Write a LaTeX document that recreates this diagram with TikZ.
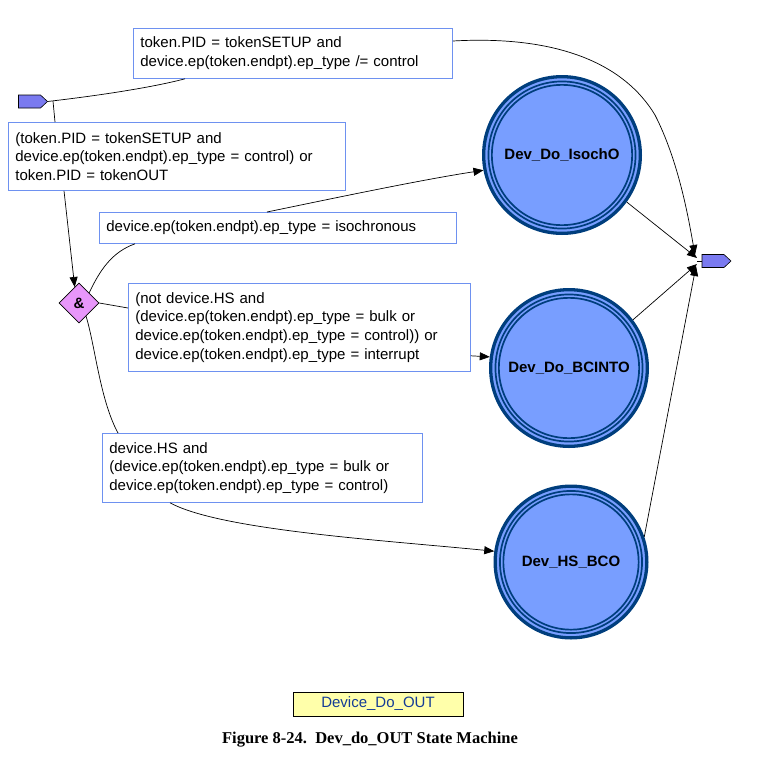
\documentclass[tikz,border=0pt]{standalone}
\usepackage{fontspec}
\setmainfont{Liberation Sans}
\newfontfamily\capfont{Liberation Serif}
\usetikzlibrary{shapes.geometric,arrows.meta,calc}
\definecolor{stblue}{RGB}{120,158,255}
\definecolor{stnavy}{RGB}{0,62,125}
\definecolor{boxblue}{RGB}{110,145,240}
\definecolor{pentfill}{RGB}{122,122,240}
\definecolor{diafill}{RGB}{232,150,250}
\definecolor{legfill}{RGB}{255,255,170}
\definecolor{legtext}{RGB}{20,60,150}
\begin{document}
\begin{tikzpicture}[x=1pt,y=-1pt,
  condbox/.style={draw=boxblue, line width=0.8pt, fill=white, rectangle, anchor=north west,
    align=left, inner xsep=7pt, inner ysep=0pt, font=\fontsize{15}{18.7}\selectfont},
  state/.style={circle, draw=stnavy, line width=3.3pt, fill=stblue,
    minimum size={2*#1pt-3.3pt}, inner sep=0pt, text=black,
    font=\fontsize{15}{18}\selectfont\bfseries,
    path picture={\draw[stnavy,line width=1.7pt] (path picture bounding box.center)
      circle[radius=#1pt-6.45pt] circle[radius=#1pt-9.85pt];}},
  pentbox/.style={rectangle, inner sep=0pt, outer sep=0pt, minimum width=29pt, minimum height=13pt},
  pentdraw/.style={draw=black, fill=pentfill, line width=0.6pt, line join=miter},
  dia/.style={diamond, draw=black, fill=diafill, line width=0.6pt, minimum width=40pt,
    minimum height=40pt, inner sep=0pt, font=\bfseries\fontsize{15}{18}\selectfont},
  conn/.style={draw=black, line width=0.7pt},
  arr/.style={conn, -{Triangle[length=10pt,width=8pt]}}
]
\useasboundingbox (0,0) rectangle (769,777);

% pseudo-state nodes (pentagons)
\node[pentbox] (init) at (33,101.5) {};
\node[pentbox] (fin) at (716.5,261) {};
\foreach \p in {init,fin}{
  \draw[pentdraw] (\p.north west) -- ($(\p.north east)+(-7,0)$) -- (\p.east)
    -- ($(\p.south east)+(-7,0)$) -- (\p.south west) -- cycle;
}
\coordinate (j) at (53,101);

\node[condbox, text width=305pt, minimum height=50pt] (b1) at (133,28)
  {token.PID = tokenSETUP and\\device.ep(token.endpt).ep\_type /= control};
\node[condbox, text width=323pt, minimum height=68pt] (b2) at (8,122)
  {(token.PID = tokenSETUP and\\device.ep(token.endpt).ep\_type = control) or\\token.PID = tokenOUT};
\node[condbox, text width=343pt, minimum height=31pt] (b3) at (99,212)
  {device.ep(token.endpt).ep\_type = isochronous};
\node[condbox, text width=328pt, minimum height=88pt] (b4) at (128,283)
  {(not device.HS and\\(device.ep(token.endpt).ep\_type = bulk or\\device.ep(token.endpt).ep\_type = control)) or\\device.ep(token.endpt).ep\_type = interrupt};
\node[condbox, text width=306pt, minimum height=69pt] (b5) at (102,433)
  {device.HS and\\(device.ep(token.endpt).ep\_type = bulk or\\device.ep(token.endpt).ep\_type = control)};

\node[dia] (d) at (79,303) {\&};

\node[state=80] (iso) at (562,155) {Dev\_Do\_IsochO};
\node[state=80] (bc) at (569,368) {Dev\_Do\_BCINTO};
\node[state=77.5] (hs) at (571,562) {Dev\_HS\_BCO};

\node[draw=black, line width=0.7pt, fill=legfill, minimum width=170pt, minimum height=24pt,
  inner sep=0pt, text=legtext, font=\fontsize{15}{18}\selectfont] (leg) at (378,704) {Device\_Do\_OUT};
\node[font=\capfont\bfseries\fontsize{16.5}{20}\selectfont] (cap) at (370,740)
  {Figure 8-24.\ \ Dev\_do\_OUT State Machine};

% connectors
\draw[conn] (init.east) .. controls (95,96) and (150,88) .. ($(b1.south west)+(52,0)$);
\draw[conn] (j) -- ($(b2.north west)+(47,0)$);
\draw[arr] ($(b2.south west)+(56,0)$) -- (d.105);
\draw[conn] (d.north east) .. controls (100,270) and (112,252) .. ($(b3.south west)+(36,0)$);
\draw[arr] ($(b3.north west)+(168,0)$) .. controls (330,199) and (420,180) .. (iso.191);
\draw[conn] (d.east) -- ($(b4.north west)+(0,25)$);
\draw[arr] ($(b4.south east)+(0,-16)$) -- (bc.172);
\draw[conn] (d.-62) .. controls (95,345) and (100,400) .. ($(b5.north west)+(16,0)$);
\draw[arr] ($(b5.south west)+(68,0)$) .. controls (220,530) and (380,540) .. (hs.172);
\draw[arr] ($(b1.north east)+(0,13)$) .. controls (560,35) and (625,65) .. (655,115)
  .. controls (678,160) and (688,215) .. ($(fin.west)+(-7,-6)$);
\draw[arr] (iso.-36) -- ($(fin.west)+(-5,-3)$);
\draw[arr] (bc.37) -- ($(fin.west)+(-5,3)$);
\draw[arr] (hs.19) -- ($(fin.west)+(-6,5)$);
\draw[conn] ($(fin.west)+(-5,0)$) -- (fin.west);
\end{tikzpicture}
\end{document}
